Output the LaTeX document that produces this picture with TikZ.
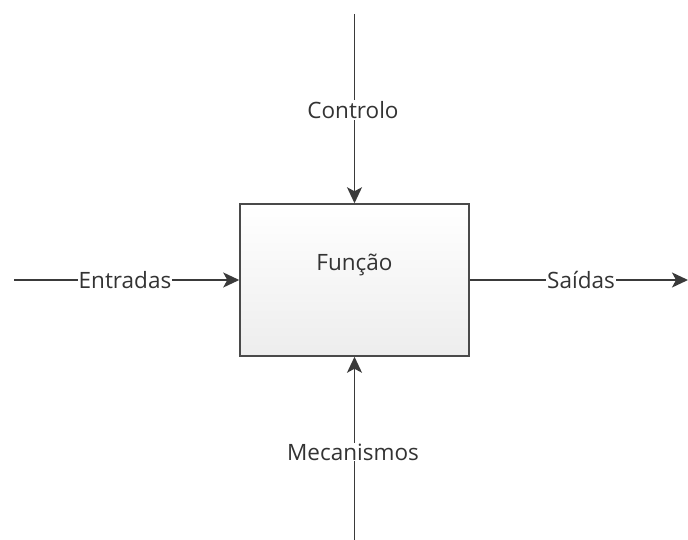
\documentclass[tikz,border=0pt]{standalone}
\usepackage{fontspec}
\setmainfont{Open Sans}
\usetikzlibrary{arrows.meta,shadings}
\definecolor{linec}{HTML}{3A3A3A}
\definecolor{boxline}{HTML}{4A4A4A}
\definecolor{txt}{HTML}{333333}
\tikzset{
  conn/.style={draw=linec, line width=1.5pt},
  arr/.style={conn, -{Stealth[length=16pt,width=15pt,inset=4pt]}},
  lbl/.style={fill=white, inner sep=1pt, text=txt, font=\fontsize{22.5}{26}\selectfont},
  funcbox/.style={draw=boxline, line width=1.5pt, top color=white, bottom color=gray!14,
    minimum width=229pt, minimum height=152pt, inner sep=0pt},
}
\begin{document}
\begin{tikzpicture}[x=1pt,y=-1pt]
\useasboundingbox (0,0) rectangle (688,540);
\node[funcbox] (f) at (354.5,280) {};
\node[text=txt, font=\fontsize{22.5}{26}\selectfont] (ft) at (354.5,265) {Função};
\coordinate (ctop) at (354.5,14);
\coordinate (mbot) at (354.5,540);
\coordinate (ein) at (14,280);
\coordinate (sout) at (688,280);
\draw[arr] (ctop) -- (f.north);
\draw[arr] (mbot) -- (f.south);
\draw[arr] (ein) -- (f.west);
\draw[arr] (f.east) -- (sout);
\node[lbl] (c) at (353,110) {Controlo};
\node[lbl] (m) at (353,452) {Mecanismos};
\node[lbl] (e) at (125,280) {Entradas};
\node[lbl] (s) at (581,280) {Saídas};
\end{tikzpicture}
\end{document}
